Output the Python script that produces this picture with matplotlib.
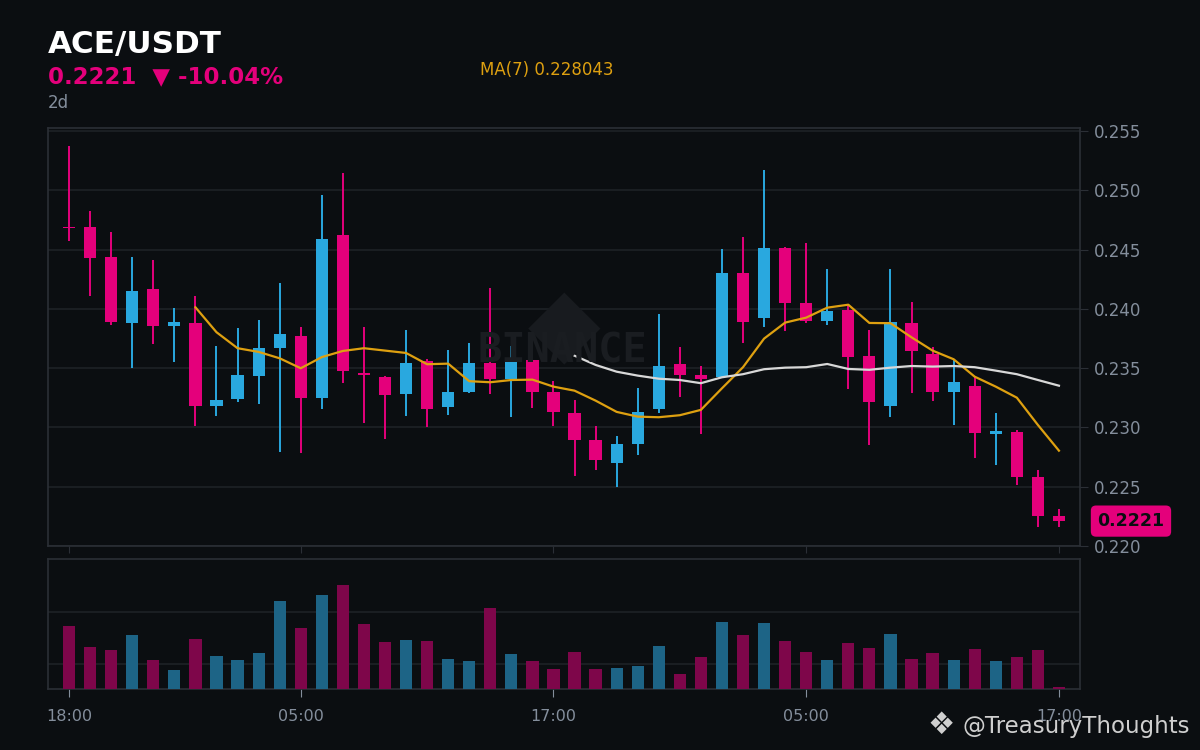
import numpy as np
import matplotlib.pyplot as plt

# hourly candles, 18:00 -> 17:00 two days later
opens = [0.24690, 0.24691, 0.24438, 0.23881, 0.24168, 0.23856, 0.23881, 0.23182, 0.23243, 0.23437,
         0.23673, 0.23772, 0.23252, 0.24623, 0.23460, 0.23426, 0.23285, 0.23561, 0.23176, 0.23302,
         0.23544, 0.23412, 0.23570, 0.23302, 0.23123, 0.22895, 0.22704, 0.22864, 0.23159, 0.23536,
         0.23443, 0.23429, 0.24303, 0.23926, 0.24514, 0.24050, 0.23901, 0.23991, 0.23603, 0.23184,
         0.23881, 0.23620, 0.23302, 0.23350, 0.22948, 0.22963, 0.22581, 0.22254]
highs = [0.25373, 0.24826, 0.24649, 0.24438, 0.24413, 0.24008, 0.24109, 0.23688, 0.23839, 0.23907,
         0.24219, 0.23848, 0.24960, 0.25143, 0.23848, 0.23435, 0.23822, 0.23578, 0.23654, 0.23713,
         0.24176, 0.23688, 0.23612, 0.23393, 0.23232, 0.23016, 0.22931, 0.23334, 0.23957, 0.23679,
         0.23519, 0.24505, 0.24606, 0.25171, 0.24525, 0.24556, 0.24337, 0.24033, 0.23822, 0.24337,
         0.24058, 0.23677, 0.23570, 0.23429, 0.23120, 0.22980, 0.22642, 0.22313]
lows = [0.24575, 0.24112, 0.23865, 0.23500, 0.23707, 0.23553, 0.23016, 0.23100, 0.23218, 0.23201,
        0.22796, 0.22786, 0.23159, 0.23378, 0.23041, 0.22901, 0.23100, 0.23002, 0.23108, 0.23294,
        0.23285, 0.23092, 0.23167, 0.23016, 0.22594, 0.22645, 0.22501, 0.22771, 0.23125, 0.23260,
        0.22948, 0.23425, 0.23710, 0.23850, 0.23817, 0.23879, 0.23867, 0.23322, 0.22856, 0.23092,
        0.23294, 0.23226, 0.23024, 0.22746, 0.22687, 0.22518, 0.22159, 0.22159]
closes = [0.24680, 0.24432, 0.23890, 0.24151, 0.23856, 0.23890, 0.23182, 0.23232, 0.23443, 0.23671,
          0.23789, 0.23252, 0.24590, 0.23479, 0.23439, 0.23274, 0.23544, 0.23159, 0.23300, 0.23544,
          0.23412, 0.23553, 0.23302, 0.23134, 0.22898, 0.22729, 0.22864, 0.23131, 0.23519, 0.23446,
          0.23412, 0.24303, 0.23892, 0.24514, 0.24053, 0.23901, 0.23983, 0.23597, 0.23218, 0.23890,
          0.23648, 0.23302, 0.23384, 0.22957, 0.22971, 0.22586, 0.22249, 0.22210]
volumes = [1.74, 1.33, 1.28, 1.56, 1.08, 0.89, 1.49, 1.16, 1.08, 1.22,
           2.22, 1.70, 2.33, 2.53, 1.78, 1.43, 1.47, 1.45, 1.10, 1.06,
           2.08, 1.20, 1.06, 0.91, 1.24, 0.91, 0.93, 0.97, 1.35, 0.81,
           1.14, 1.81, 1.56, 1.79, 1.45, 1.24, 1.08, 1.41, 1.31, 1.58,
           1.10, 1.22, 1.08, 1.30, 1.06, 1.14, 1.28, 0.56]

# moving averages (start at candle 6 and 24)
ma7 = [0.24013, 0.23803, 0.23668, 0.23637, 0.23583, 0.23499, 0.23593, 0.23645, 0.23668, 0.23648,
       0.23628, 0.23533, 0.23538, 0.23390, 0.23381, 0.23400, 0.23403, 0.23344, 0.23310, 0.23226,
       0.23131, 0.23091, 0.23086, 0.23103, 0.23148, 0.23330, 0.23508, 0.23749, 0.23884, 0.23926,
       0.24010, 0.24035, 0.23881, 0.23879, 0.23760, 0.23648, 0.23575, 0.23428, 0.23344, 0.23251,
       0.23021, 0.22804]
ma25 = [0.23605, 0.23527, 0.23470, 0.23437, 0.23411, 0.23400, 0.23373, 0.23423, 0.23449, 0.23491,
        0.23504, 0.23508, 0.23535, 0.23493, 0.23486, 0.23504, 0.23518, 0.23513, 0.23518, 0.23508,
        0.23479, 0.23449, 0.23400, 0.23352]

time_labels = ['18:00', '05:00', '17:00', '05:00', '17:00']
time_pos = [0, 11, 23, 35, 47]
price_ticks = [0.220, 0.225, 0.230, 0.235, 0.240, 0.245, 0.250, 0.255]
last_price = 0.2221

bg = '#0b0e11'
up = '#29a8df'
down = '#e4007b'
up_vol = '#1d6486'
down_vol = '#7e064a'
grid_c = '#1e2226'
spine_c = '#2b2f36'
gray = '#848e9c'

fig = plt.figure(figsize=(12, 7.5), dpi=100, facecolor=bg)
ax = fig.add_axes([0.04, 0.272, 0.86, 0.5573])
axv = fig.add_axes([0.04, 0.0809, 0.86, 0.1738])

x = np.arange(len(opens))
o = np.array(opens)
c = np.array(closes)
cols = np.where(c >= o, up, down)

# watermark behind everything
fig.text(0.470, 0.565, '\u25c6', fontsize=68, color='#181b1f', ha='center', va='center', zorder=0)
fig.text(0.469, 0.532, 'BINANCE', fontsize=29, color='#1a1d21', family='DejaVu Sans Mono',
         fontweight='bold', ha='center', va='center', zorder=0)

for a in (ax, axv):
    a.set_facecolor('none')
    for s in a.spines.values():
        s.set_color(spine_c)
        s.set_linewidth(1.2)
    a.set_xlim(-1, 48)

ax.vlines(x, lows, highs, colors=cols, linewidth=1.4, zorder=3)
ax.bar(x, np.maximum(np.abs(c - o), 0.00003), bottom=np.minimum(o, c), width=0.58,
       color=cols, zorder=4)
ax.plot(np.arange(6, 48), ma7, color='#dea010', linewidth=1.6, zorder=5)
ax.plot(np.arange(24, 48), ma25, color='#d8d8d8', linewidth=1.6, zorder=5)

ax.set_ylim(0.2200, 0.25525)
ax.set_yticks(price_ticks)
ax.set_yticklabels([f'{t:.3f}' for t in price_ticks])
ax.yaxis.tick_right()
ax.tick_params(axis='y', colors=spine_c, labelcolor=gray, labelsize=12, length=6, pad=4)
ax.set_xticks(time_pos)
ax.tick_params(axis='x', colors=spine_c, length=5, labelbottom=False)
ax.grid(axis='y', color=grid_c, linewidth=1.2, zorder=0)

ax.text(1.0494, last_price, f'{last_price:.4f}', transform=ax.get_yaxis_transform(),
        ha='center', va='center', fontsize=12.5, fontweight='bold', color=bg,
        bbox=dict(boxstyle='round,pad=0.38,rounding_size=0.3', fc=down, ec='none'))

axv.bar(x, volumes, width=0.58, color=np.where(c >= o, up_vol, down_vol), zorder=3)
axv.set_ylim(0.52, 3.025)
axv.set_yticks([1, 2])
axv.grid(axis='y', color=grid_c, linewidth=1.2, zorder=0)
axv.tick_params(axis='y', length=0, labelleft=False)
axv.set_xticks(time_pos)
axv.set_xticklabels(time_labels)
axv.tick_params(axis='x', colors=gray, labelcolor=gray, labelsize=11.5, length=6, pad=8)

# header
fig.text(0.04, 0.9289, 'ACE/USDT', fontsize=22.3, fontweight='bold', color='white')
fig.text(0.04, 0.8889, '0.2221  \u25bc -10.04%', fontsize=16.5, fontweight='bold', color=down)
fig.text(0.04, 0.8556, '2d', fontsize=12, color=gray)
fig.text(0.40, 0.8995, 'MA(7) 0.228043', fontsize=12, color='#dea010')

# signature in the lower right corner
fig.text(0.784, 0.0333, '\u2756', fontsize=22, color='#cfcfcf', ha='center', va='center')
fig.text(0.992, 0.0227, '@TreasuryThoughts', fontsize=16.5, color='#cfcfcf', ha='right')

fig.savefig('out.png', dpi=100, facecolor=bg)
